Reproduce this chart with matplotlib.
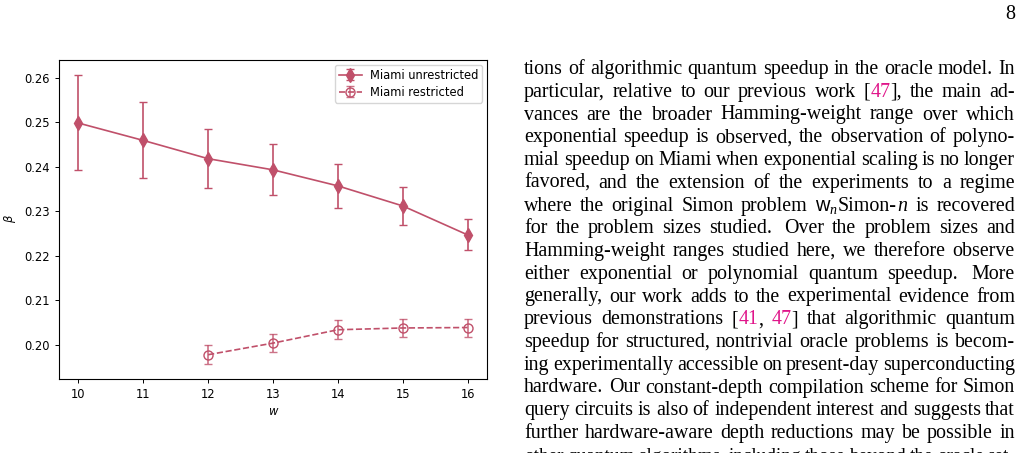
import numpy as np
import matplotlib
matplotlib.use('Agg')
from matplotlib import pyplot as plt

# data
w_unres = [10, 11, 12, 13, 14, 15, 16]
beta_unres = [0.2498, 0.2459, 0.2418, 0.2393, 0.2357, 0.2312, 0.2247]
hi_unres = [0.2607, 0.2545, 0.2485, 0.2452, 0.2407, 0.2355, 0.2282]
lo_unres = [0.2392, 0.2375, 0.2353, 0.2336, 0.2307, 0.2269, 0.2212]

w_res = [12, 13, 14, 15, 16]
beta_res = [0.1978, 0.2004, 0.2034, 0.2038, 0.2039]
hi_res = [0.1999, 0.2025, 0.2055, 0.2058, 0.2059]
lo_res = [0.1956, 0.1983, 0.2013, 0.2017, 0.2018]

xtick_labels = ['10', '11', '12', '13', '14', '15', '16']

# body text of the right column, one entry per printed line
# |..| marks a magenta reference number, ~ marks a wide sentence space
MAG = '#e0158a'
K = 'black'
body = [
    "tions of algorithmic quantum speedup in the oracle model. In",
    "particular, relative to our previous work [|47|], the main ad-",
    "vances are the broader Hamming-weight range over which",
    "exponential speedup is observed, the observation of polyno-",
    "mial speedup on Miami when exponential scaling is no longer",
    "favored, and the extension of the experiments to a regime",
    "where the original Simon problem $\\mathsf{w}_n$Simon-$n$ is recovered",
    "for the problem sizes studied.~ Over the problem sizes and",
    "Hamming-weight ranges studied here, we therefore observe",
    "either exponential or polynomial quantum speedup.~ More",
    "generally, our work adds to the experimental evidence from",
    "previous demonstrations [|41|, |47|] that algorithmic quantum",
    "speedup for structured, nontrivial oracle problems is becom-",
    "ing experimentally accessible on present-day superconducting",
    "hardware. Our constant-depth compilation scheme for Simon",
    "query circuits is also of independent interest and suggests that",
    "further hardware-aware depth reductions may be possible in",
    "other quantum algorithms, including those beyond the oracle set-",
]

color = '#c0506a'

plt.rcParams['mathtext.fontset'] = 'custom'
plt.rcParams['mathtext.rm'] = 'Liberation Serif'
plt.rcParams['mathtext.it'] = 'Liberation Serif:italic'
plt.rcParams['mathtext.sf'] = 'Liberation Sans'

fig = plt.figure(figsize=(10.21, 4.53), dpi=100)
W, H = 1021.0, 453.0
ax = fig.add_axes([59 / W, 1 - 379 / H, (487 - 59) / W, (379 - 60) / H])

err_u = [np.array(beta_unres) - np.array(lo_unres), np.array(hi_unres) - np.array(beta_unres)]
err_r = [np.array(beta_res) - np.array(lo_res), np.array(hi_res) - np.array(beta_res)]

ax.errorbar(w_unres, beta_unres, yerr=err_u, color=color, marker='d', ms=7,
            lw=1.2, elinewidth=1.2, capsize=2.6, label='Miami unrestricted')
eb = ax.errorbar(w_res, beta_res, yerr=err_r, color=color, marker='o', ms=6.5,
                 mfc='none', ls='--', lw=1.2, elinewidth=1.2, capsize=2.6,
                 label='Miami restricted')
for c in eb[1] + eb[2]:
    c.set_alpha(0.8)

fs = 8.3
ax.set_xticks(w_unres)
ax.set_xticklabels(xtick_labels)
ax.set_yticks([0.20, 0.21, 0.22, 0.23, 0.24, 0.25, 0.26])
ax.tick_params(labelsize=fs, length=3, width=0.7)
for s in ax.spines.values():
    s.set_linewidth(0.8)
ax.set_xlabel('w', fontsize=fs, fontstyle='italic', family='DejaVu Sans', labelpad=3)
ax.set_ylabel('\u03b2', fontsize=fs, fontstyle='italic', family='DejaVu Sans', labelpad=6)
ax.legend(loc='upper right', fontsize=fs, handlelength=2.0, borderaxespad=0.4,
          labelspacing=0.35, borderpad=0.35, handletextpad=0.7)

tsize = 14.4
# page number
fig.text(1015 / W, 1 - 19 / H, '8', family='Liberation Serif', fontsize=tsize,
         ha='right', va='baseline')

# justified right column
renderer = fig.canvas.get_renderer()
x0, x1 = 524.0, 1015.0
base0, step = 74.0, 22.75


def measure(s, size):
    t = fig.text(0, 0, s, family='Liberation Serif', fontsize=size)
    wpx = t.get_window_extent(renderer).width
    t.remove()
    return wpx


for i, line in enumerate(body):
    y = 1 - (base0 + i * step) / H
    words = []
    extra = []
    for wd in line.split():
        wide = wd.endswith('~')
        wd = wd.rstrip('~')
        pieces = []
        for j, p in enumerate(wd.split('|')):
            if p == '':
                continue
            if j % 2 == 1:
                pieces.append((p, MAG))
            elif '$' in p and not (p.startswith('$') and p.endswith('$') and p.count('$') == 2):
                for k, q in enumerate(p.split('$')):
                    if q:
                        pieces.append(('$' + q + '$' if k % 2 == 1 else q, K))
            else:
                pieces.append((p, K))
        words.append(pieces)
        extra.append(4.0 if wide else 0.0)
    ngap = max(len(words) - 1, 1)
    size = tsize
    while True:
        widths = [[measure(p, size) for p, c in pieces] for pieces in words]
        total = sum(sum(ws) for ws in widths) + sum(extra[:-1])
        gap = (x1 - x0 - total) / ngap
        if gap >= 3.2 or size < 12:
            break
        size -= 0.1
    x = x0
    for pieces, ws, ex in zip(words, widths, extra):
        for (p, c), wpx in zip(pieces, ws):
            fig.text(x / W, y, p, color=c, family='Liberation Serif', fontsize=size,
                     va='baseline', ha='left')
            x += wpx
        x += gap + ex

fig.savefig('out.png', dpi=100)
